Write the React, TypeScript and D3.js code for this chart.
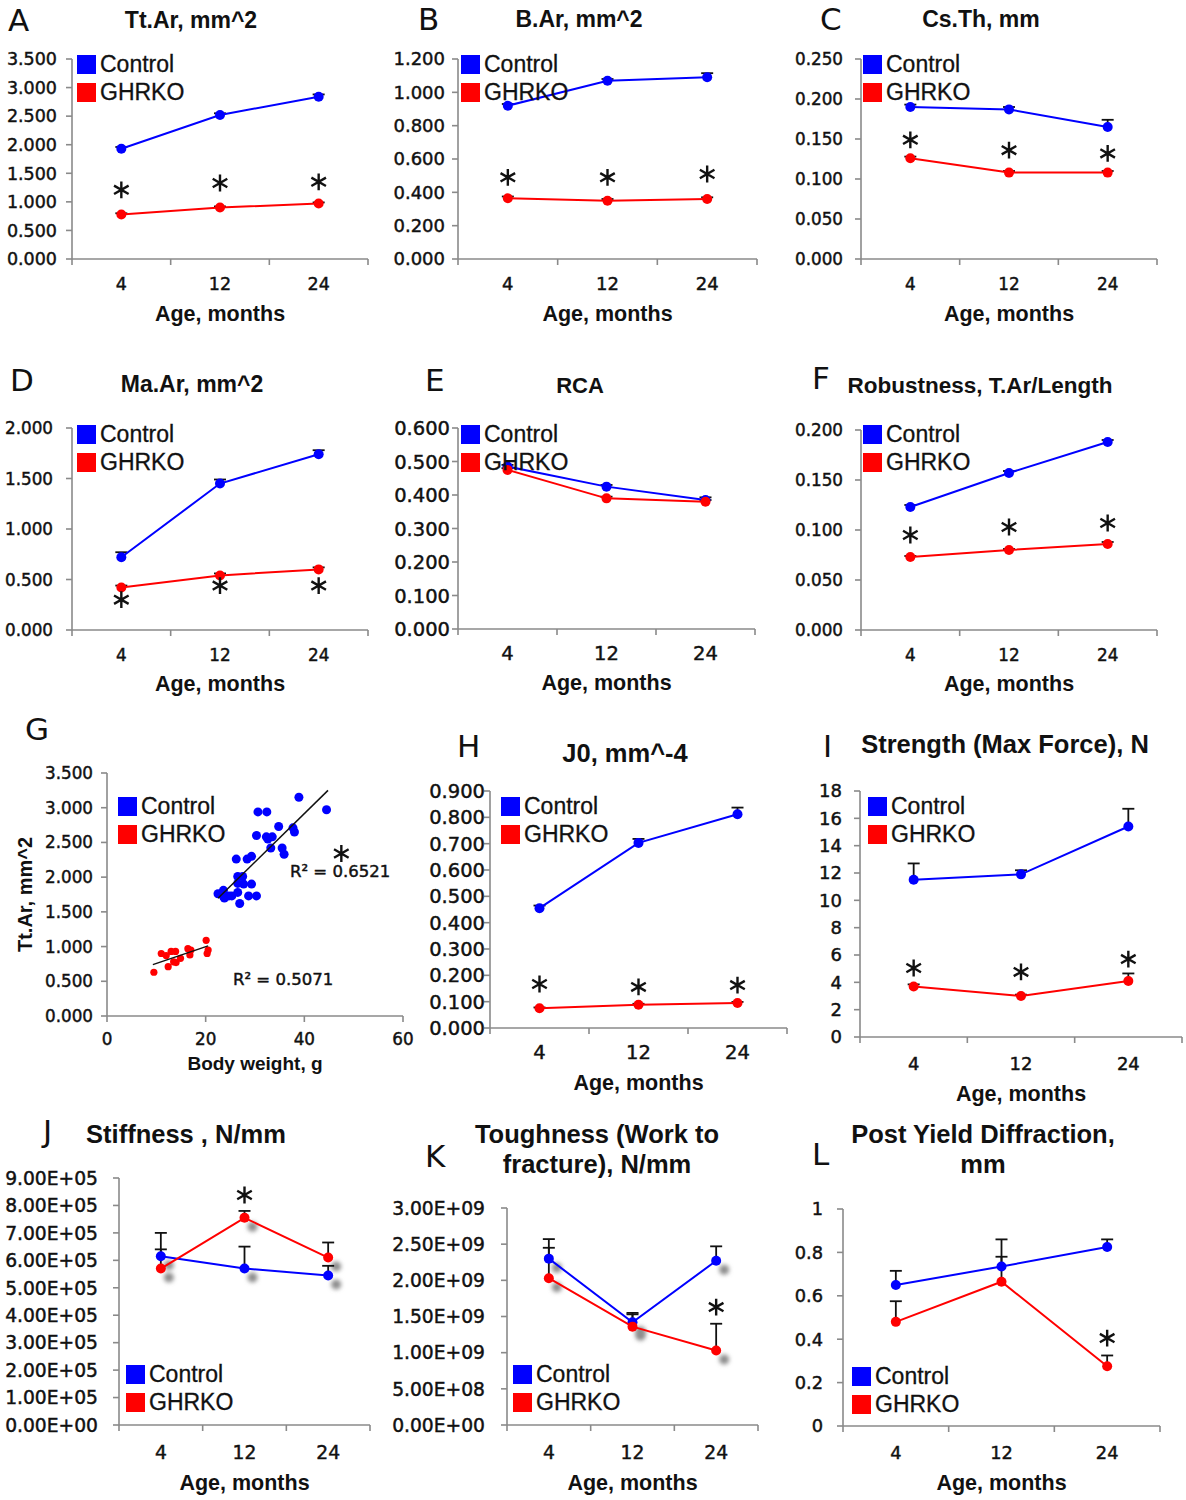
import React, { useEffect, useRef } from "react";
import * as d3 from "d3";

const ages = ["4", "12", "24"];

// A  Tt.Ar
const ttArControl = [1.93, 2.52, 2.84];
const ttArControlErr = [0.03, 0.03, 0.04];
const ttArGhrko = [0.78, 0.9, 0.97];
const ttArGhrkoErr = [0.02, 0.02, 0.02];
const ttArStars = [1.21, 1.33, 1.35];

// B  B.Ar
const bArControl = [0.92, 1.07, 1.09];
const bArControlErr = [0.01, 0.01, 0.025];
const bArGhrko = [0.365, 0.35, 0.36];
const bArGhrkoErr = [0.01, 0.01, 0.01];
const bArStars = [0.49, 0.49, 0.51];

// C  Cs.Th
const csThControl = [0.19, 0.187, 0.165];
const csThControlErr = [0.003, 0.003, 0.009];
const csThGhrko = [0.126, 0.108, 0.108];
const csThGhrkoErr = [0.002, 0.002, 0.002];
const csThStars = [0.149, 0.136, 0.132];

// D  Ma.Ar
const maArControl = [0.72, 1.45, 1.74];
const maArControlErr = [0.05, 0.04, 0.04];
const maArGhrko = [0.42, 0.54, 0.6];
const maArGhrkoErr = [0.02, 0.02, 0.02];
const maArStars = [0.3, 0.44, 0.44];

// E  RCA
const rcaControl = [0.485, 0.425, 0.385];
const rcaControlErr = [0.005, 0.005, 0.008];
const rcaGhrko = [0.475, 0.39, 0.38];
const rcaGhrkoErr = [0.005, 0.005, 0.005];

// F  Robustness
const robControl = [0.123, 0.157, 0.188];
const robControlErr = [0.002, 0.002, 0.002];
const robGhrko = [0.073, 0.08, 0.086];
const robGhrkoErr = [0.001, 0.001, 0.002];
const robStars = [0.095, 0.103, 0.107];

// G  scatter Tt.Ar vs body weight
const bwControl = [38.9, 44.5, 30.6, 32.4, 34.8, 37.7, 38.0, 30.3, 32.3, 32.6, 33.5, 33.2, 35.5, 35.9, 26.2, 28.4, 29.3, 26.5, 27.5, 26.5, 27.7, 29.3, 22.5, 23.6, 23.8, 24.7, 25.3, 26.5, 28.7, 30.3, 26.9, 23.6];
const ttArBwControl = [3.15, 2.97, 2.94, 2.94, 2.73, 2.71, 2.65, 2.6, 2.58, 2.55, 2.58, 2.42, 2.42, 2.33, 2.26, 2.26, 2.3, 2.01, 2.01, 1.91, 1.9, 1.9, 1.76, 1.81, 1.7, 1.73, 1.73, 1.78, 1.73, 1.73, 1.62, 1.72];
const bwGhrko = [9.5, 11.0, 12.4, 13.0, 13.9, 13.5, 14.0, 14.9, 16.4, 16.8, 17.0, 20.1, 20.3, 20.5, 12.0];
const ttArBwGhrko = [0.63, 0.9, 0.71, 0.93, 0.93, 0.78, 0.77, 0.83, 0.97, 0.88, 0.95, 1.09, 0.9, 0.95, 0.87];
const fitControl = { slope: 0.0697, intercept: 0.127, from: 22.5, to: 44.8 };
const fitGhrko = { slope: 0.0241, intercept: 0.516, from: 9.3, to: 20.5 };
const r2Control = "R\u00B2 = 0.6521";
const r2Ghrko = "R\u00B2 = 0.5071";

// H  J0
const j0Control = [0.455, 0.703, 0.812];
const j0ControlErr = [0.01, 0.015, 0.025];
const j0Ghrko = [0.075, 0.088, 0.095];
const j0GhrkoErr = [0.003, 0.004, 0.004];
const j0Stars = [0.167, 0.156, 0.163];

// I  Max force
const forceControl = [11.5, 11.9, 15.4];
const forceControlErr = [1.2, 0.3, 1.3];
const forceGhrko = [3.7, 3.0, 4.1];
const forceGhrkoErr = [0.15, 0.1, 0.55];
const forceStars = [5.05, 4.76, 5.7];

// J  Stiffness
const stiffControl = [6.15e5, 5.7e5, 5.45e5];
const stiffControlErr = [0.85e5, 0.8e5, 0.35e5];
const stiffGhrko = [5.7e5, 7.55e5, 6.1e5];
const stiffGhrkoErr = [0.7e5, 0.25e5, 0.55e5];
const stiffStars = [null, 8.38e5, null];

// K  Toughness
const toughControl = [2.3e9, 1.42e9, 2.27e9];
const toughControlErr = [0.27e9, 0.13e9, 0.2e9];
const toughGhrko = [2.03e9, 1.36e9, 1.03e9];
const toughGhrkoErr = [0.42e9, 0.17e9, 0.37e9];
const toughStars = [null, null, 1.63e9];

// L  Post yield
const pydControl = [0.65, 0.735, 0.825];
const pydControlErr = [0.065, 0.125, 0.035];
const pydGhrko = [0.48, 0.665, 0.275];
const pydGhrkoErr = [0.095, 0.115, 0.05];
const pydStars = [null, null, 0.405];

const BLUE = "#0000ff";
const RED = "#ff0000";
const AXIS = "#8a8a8a";
const INK = "#111";
const TICK_FONT = "'DejaVu Sans', Verdana, sans-serif";
const SANS = "'Liberation Sans', Arial, sans-serif";

const fmt3 = d3.format(".3f");
const fmtSci = (v: number) => {
  const [m, e] = v.toExponential(2).split("e");
  const sign = e[0] === "-" ? "-" : "+";
  return `${m}E${sign}${String(Math.abs(+e)).padStart(2, "0")}`;
};
const fmtPlain = (v: number) => String(+v.toFixed(2));

const panels = [
  { letter: "A", lx: 8, ly: 31, title: ["Tt.Ar, mm^2"], tx: 191, ty: 28, ts: 23,
    left: 72, right: 368, top: 59, bottom: 259, max: 3.5, step: 0.5, fmt: fmt3, tf: 17.5, gap: 15,
    control: ttArControl, controlErr: ttArControlErr, ghrko: ttArGhrko, ghrkoErr: ttArGhrkoErr, stars: ttArStars,
    legX: 5, legY: -4, xdy: 31, xtdy: 61.5 },
  { letter: "B", lx: 418, ly: 30, title: ["B.Ar, mm^2"], tx: 579, ty: 27, ts: 23,
    left: 458, right: 757, top: 59, bottom: 259, max: 1.2, step: 0.2, fmt: fmt3, tf: 18, gap: 13,
    control: bArControl, controlErr: bArControlErr, ghrko: bArGhrko, ghrkoErr: bArGhrkoErr, stars: bArStars,
    legX: 3, legY: -4, xdy: 31, xtdy: 61.5 },
  { letter: "C", lx: 820, ly: 30, title: ["Cs.Th, mm"], tx: 981, ty: 27, ts: 23,
    left: 861, right: 1157, top: 59, bottom: 259, max: 0.25, step: 0.05, fmt: fmt3, tf: 16.8, gap: 18,
    control: csThControl, controlErr: csThControlErr, ghrko: csThGhrko, ghrkoErr: csThGhrkoErr, stars: csThStars,
    legX: 2, legY: -4, xdy: 31, xtdy: 61.5 },
  { letter: "D", lx: 10, ly: 391, title: ["Ma.Ar, mm^2"], tx: 192, ty: 392, ts: 23,
    left: 72, right: 368, top: 428, bottom: 630, max: 2, step: 0.5, fmt: fmt3, tf: 16.8, gap: 19,
    control: maArControl, controlErr: maArControlErr, ghrko: maArGhrko, ghrkoErr: maArGhrkoErr, stars: maArStars,
    legX: 5, legY: -3, xdy: 31, xtdy: 60.5 },
  { letter: "E", lx: 425, ly: 391, title: ["RCA"], tx: 580, ty: 393, ts: 22,
    left: 458, right: 755, top: 428, bottom: 629, max: 0.6, step: 0.1, fmt: fmt3, tf: 19.5, gap: 8,
    control: rcaControl, controlErr: rcaControlErr, ghrko: rcaGhrko, ghrkoErr: rcaGhrkoErr, stars: [null, null, null],
    legX: 3, legY: -3, xdy: 31, xtdy: 60.5 },
  { letter: "F", lx: 812, ly: 389, title: ["Robustness, T.Ar/Length"], tx: 980, ty: 393, ts: 22.5,
    left: 861, right: 1157, top: 430, bottom: 630, max: 0.2, step: 0.05, fmt: fmt3, tf: 16.8, gap: 18,
    control: robControl, controlErr: robControlErr, ghrko: robGhrko, ghrkoErr: robGhrkoErr, stars: robStars,
    legX: 2, legY: -5, xdy: 31, xtdy: 60.5 },
  { letter: "H", lx: 457, ly: 757, title: ["J0, mm^-4"], tx: 625, ty: 762, ts: 25.5,
    left: 490, right: 787, top: 791, bottom: 1028, max: 0.9, step: 0.1, fmt: fmt3, tf: 19.5, gap: 5,
    control: j0Control, controlErr: j0ControlErr, ghrko: j0Ghrko, ghrkoErr: j0GhrkoErr, stars: j0Stars,
    legX: 11, legY: 6, xdy: 31, xtdy: 61.5 },
  { letter: "I", lx: 823, ly: 757, title: ["Strength (Max Force), N"], tx: 1005, ty: 753, ts: 25.5,
    left: 860, right: 1182, top: 791, bottom: 1037, max: 18, step: 2, fmt: fmtPlain, tf: 18, gap: 18,
    control: forceControl, controlErr: forceControlErr, ghrko: forceGhrko, ghrkoErr: forceGhrkoErr, stars: forceStars,
    legX: 8, legY: 6, xdy: 33, xtdy: 63.5 },
  { letter: "J", lx: 43, ly: 1142, title: ["Stiffness , N/mm"], tx: 186, ty: 1143, ts: 25.5,
    left: 119, right: 370, top: 1178, bottom: 1425, max: 9e5, step: 1e5, fmt: fmtSci, tf: 18.7, gap: 21,
    control: stiffControl, controlErr: stiffControlErr, ghrko: stiffGhrko, ghrkoErr: stiffGhrkoErr, stars: stiffStars,
    legX: 7, legY: 187, xdy: 33.5, xtdy: 65, shadow: true },
  { letter: "K", lx: 425, ly: 1167, title: ["Toughness (Work to", "fracture), N/mm"], tx: 597, ty: 1143, ts: 25.5,
    left: 507, right: 758, top: 1208, bottom: 1425, max: 3e9, step: 5e8, fmt: fmtSci, tf: 18.7, gap: 22,
    control: toughControl, controlErr: toughControlErr, ghrko: toughGhrko, ghrkoErr: toughGhrkoErr, stars: toughStars,
    legX: 6, legY: 157, xdy: 33.5, xtdy: 65, shadow: true },
  { letter: "L", lx: 812, ly: 1165, title: ["Post Yield Diffraction,", "mm"], tx: 983, ty: 1143, ts: 25.5,
    left: 843, right: 1160, top: 1209, bottom: 1426, max: 1, step: 0.2, fmt: fmtPlain, tf: 17.8, gap: 20,
    control: pydControl, controlErr: pydControlErr, ghrko: pydGhrko, ghrkoErr: pydGhrkoErr, stars: pydStars,
    legX: 9, legY: 158, xdy: 33, xtdy: 64 },
];

const scatter = { letter: "G", lx: 25, ly: 740, left: 107, right: 403, top: 773, bottom: 1016 };

// tick text in the original is a little heavier than plain DejaVu
function tickText(sel: any, tf: number) {
  return sel.attr("font-family", TICK_FONT).attr("font-size", tf).attr("fill", INK)
    .attr("stroke", INK).attr("stroke-width", 0.45);
}

function drawLetter(svg: any, letter: string, x: number, y: number) {
  svg.append("text").attr("x", x).attr("y", y).text(letter)
    .attr("font-family", TICK_FONT).attr("font-size", 31).attr("fill", INK);
}

function drawLegend(g: any, x: number, y: number) {
  [["Control", BLUE], ["GHRKO", RED]].forEach(([name, color], i) => {
    g.append("rect").attr("x", x).attr("y", y + i * 28).attr("width", 19).attr("height", 19).attr("fill", color);
    g.append("text").attr("x", x + 23).attr("y", y + i * 28 + 16.5).text(name)
      .attr("font-family", SANS).attr("font-size", 23).attr("fill", INK)
      .attr("stroke", INK).attr("stroke-width", 0.3);
  });
}

function drawYAxis(g: any, y: any, ticks: number[], left: number, fmt: any, tf: number, gap: number) {
  const [b, t] = y.range();
  g.append("line").attr("x1", left).attr("x2", left).attr("y1", t).attr("y2", b)
    .attr("stroke", AXIS).attr("stroke-width", 1.6);
  g.append("g").selectAll("line").data(ticks).join("line")
    .attr("x1", left - 6).attr("x2", left).attr("y1", (d: number) => y(d)).attr("y2", (d: number) => y(d))
    .attr("stroke", AXIS).attr("stroke-width", 1.6);
  tickText(g.append("g").selectAll("text").data(ticks).join("text"), tf)
    .attr("x", left - gap).attr("y", (d: number) => y(d) + tf * 0.36)
    .attr("text-anchor", "end")
    .text((d: number) => fmt(d));
}

function drawStar(g: any, x: number, y: number) {
  g.append("path").attr("d", d3.symbol(d3.symbolAsterisk, 200)())
    .attr("transform", `translate(${x},${y})`).attr("stroke", INK).attr("stroke-width", 2.4).attr("fill", "none");
}

function drawLinePanel(svg: any, p: any) {
  const g = svg.append("g");
  const x = d3.scaleBand().domain(ages).range([p.left, p.right]);
  const bw = x.bandwidth();
  const cx = (i: number) => (x(ages[i]) as number) + bw / 2;
  const y = d3.scaleLinear().domain([0, p.max]).range([p.bottom, p.top]);
  const ticks = d3.range(0, Math.round(p.max / p.step) + 1).map((i) => i * p.step);

  drawLetter(svg, p.letter, p.lx, p.ly);
  p.title.forEach((line: string, i: number) => {
    svg.append("text").attr("x", p.tx).attr("y", p.ty + i * 30).attr("text-anchor", "middle").text(line)
      .attr("font-family", SANS).attr("font-weight", "bold").attr("font-size", p.ts).attr("fill", INK);
  });

  const series = [
    { vals: p.control, errs: p.controlErr, color: BLUE },
    { vals: p.ghrko, errs: p.ghrkoErr, color: RED },
  ];

  if (p.shadow) {
    series.forEach((s) => {
      g.append("g").selectAll("circle").data(s.vals).join("circle")
        .attr("cx", (d: number, i: number) => cx(i) + 8).attr("cy", (d: number) => y(d) + 9)
        .attr("r", 5).attr("fill", "#8c8c8c").attr("filter", "url(#shadowBlur)");
    });
  }

  drawYAxis(g, y, ticks, p.left, p.fmt, p.tf, p.gap);

  // x axis with ticks at category boundaries
  g.append("line").attr("x1", p.left).attr("x2", p.right).attr("y1", p.bottom).attr("y2", p.bottom)
    .attr("stroke", AXIS).attr("stroke-width", 1.6);
  const bounds = [...ages.map((a) => x(a) as number), p.right];
  g.append("g").selectAll("line").data(bounds).join("line")
    .attr("x1", (d: number) => d).attr("x2", (d: number) => d).attr("y1", p.bottom).attr("y2", p.bottom + 6)
    .attr("stroke", AXIS).attr("stroke-width", 1.6);
  tickText(g.append("g").selectAll("text").data(ages).join("text"), p.tf)
    .attr("x", (d: string, i: number) => cx(i)).attr("y", p.bottom + p.xdy).attr("text-anchor", "middle")
    .text((d: string) => d);
  g.append("text").attr("x", (p.left + p.right) / 2).attr("y", p.bottom + p.xtdy).attr("text-anchor", "middle")
    .attr("font-family", SANS).attr("font-weight", "bold").attr("font-size", 21.5).attr("fill", INK)
    .text("Age, months");

  // error bars (upper only)
  series.forEach((s) => {
    s.vals.forEach((v: number, i: number) => {
      const top = y(v + s.errs[i]);
      g.append("line").attr("x1", cx(i)).attr("x2", cx(i)).attr("y1", y(v)).attr("y2", top)
        .attr("stroke", INK).attr("stroke-width", 1.8);
      g.append("line").attr("x1", cx(i) - 6).attr("x2", cx(i) + 6).attr("y1", top).attr("y2", top)
        .attr("stroke", INK).attr("stroke-width", 1.8);
    });
  });

  const line = d3.line<number>().x((d, i) => cx(i)).y((d) => y(d));
  series.forEach((s) => {
    g.append("path").attr("d", line(s.vals)).attr("fill", "none").attr("stroke", s.color).attr("stroke-width", 2);
    g.append("g").selectAll("circle").data(s.vals).join("circle")
      .attr("cx", (d: number, i: number) => cx(i)).attr("cy", (d: number) => y(d)).attr("r", 5).attr("fill", s.color);
  });

  p.stars.forEach((v: number | null, i: number) => {
    if (v !== null) drawStar(g, cx(i), y(v));
  });

  drawLegend(g, p.left + p.legX, p.top + p.legY);
}

function drawScatter(svg: any) {
  const p = scatter;
  const g = svg.append("g");
  const x = d3.scaleLinear().domain([0, 60]).range([p.left, p.right]);
  const y = d3.scaleLinear().domain([0, 3.5]).range([p.bottom, p.top]);
  const yTicks = d3.range(0, 8).map((i) => i * 0.5);
  const xTicks = [0, 20, 40, 60];
  const tf = 16.8;

  drawLetter(svg, p.letter, p.lx, p.ly);
  drawYAxis(g, y, yTicks, p.left, fmt3, tf, 14);
  g.append("line").attr("x1", p.left).attr("x2", p.right).attr("y1", p.bottom).attr("y2", p.bottom)
    .attr("stroke", AXIS).attr("stroke-width", 1.6);
  g.append("g").selectAll("line").data(xTicks).join("line")
    .attr("x1", (d: number) => x(d)).attr("x2", (d: number) => x(d)).attr("y1", p.bottom).attr("y2", p.bottom + 6)
    .attr("stroke", AXIS).attr("stroke-width", 1.6);
  tickText(g.append("g").selectAll("text").data(xTicks).join("text"), tf)
    .attr("x", (d: number) => x(d)).attr("y", p.bottom + 29).attr("text-anchor", "middle")
    .text((d: number) => d);
  g.append("text").attr("x", 255).attr("y", p.bottom + 54).attr("text-anchor", "middle")
    .attr("font-family", SANS).attr("font-weight", "bold").attr("font-size", 19).attr("fill", INK)
    .text("Body weight, g");
  g.append("text").attr("transform", `translate(32,${(p.top + p.bottom) / 2}) rotate(-90)`).attr("text-anchor", "middle")
    .attr("font-family", SANS).attr("font-weight", "bold").attr("font-size", 20).attr("fill", INK)
    .text("Tt.Ar, mm^2");

  g.append("g").selectAll("circle").data(bwControl).join("circle")
    .attr("cx", (d: number) => x(d)).attr("cy", (d: number, i: number) => y(ttArBwControl[i]))
    .attr("r", 4.5).attr("fill", BLUE);
  g.append("g").selectAll("circle").data(bwGhrko).join("circle")
    .attr("cx", (d: number) => x(d)).attr("cy", (d: number, i: number) => y(ttArBwGhrko[i]))
    .attr("r", 3.6).attr("fill", RED);

  [fitControl, fitGhrko].forEach((f) => {
    g.append("line")
      .attr("x1", x(f.from)).attr("y1", y(f.intercept + f.slope * f.from))
      .attr("x2", x(f.to)).attr("y2", y(f.intercept + f.slope * f.to))
      .attr("stroke", INK).attr("stroke-width", 1.5);
  });

  tickText(g.append("text"), 16.5).attr("x", 290).attr("y", 877).text(r2Control);
  tickText(g.append("text"), 16.5).attr("x", 233).attr("y", 985).text(r2Ghrko);
  drawStar(g, x(47.5), y(2.34));

  drawLegend(g, p.left + 11, p.top + 24);
}

export default function App() {
  const ref = useRef<SVGSVGElement>(null);

  useEffect(() => {
    const svg = d3.select(ref.current);
    svg.selectAll("*").remove();
    svg.append("rect").attr("width", 1186).attr("height", 1500).attr("fill", "#fff");
    svg.append("defs").append("filter").attr("id", "shadowBlur")
      .attr("x", "-50%").attr("y", "-50%").attr("width", "200%").attr("height", "200%")
      .append("feGaussianBlur").attr("stdDeviation", 2);
    panels.forEach((p) => drawLinePanel(svg, p));
    drawScatter(svg);
  }, []);

  return (
    <svg ref={ref} width={1186} height={1500}
      style={{ position: "absolute", left: 0, top: 0, display: "block" }} />
  );
}
